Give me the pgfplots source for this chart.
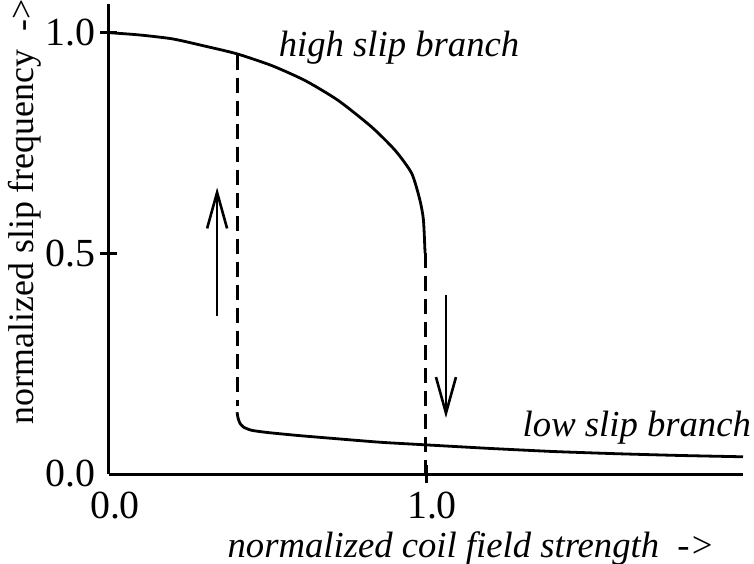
\documentclass[border=0pt]{standalone}
\usepackage{fontspec}
\setmainfont{Liberation Serif}
\usepackage{pgfplots}
\pgfplotsset{compat=1.18}
\usetikzlibrary{arrows.meta}

\begin{document}
\begin{tikzpicture}
\begin{axis}[
  at={(0,0)}, anchor=south west,
  scale only axis, width=317bp, height=235bp,
  xmin=0, xmax=2, ymin=0, ymax=1.065,
  axis lines=left,
  axis line style={-, line width=1.5bp, black},
  clip=false,
  xtick={1}, ytick={0.5,1},
  extra x ticks={0}, extra y ticks={0},
  extra tick style={major tick style={draw=none}},
  tick align=center, major tick length=8.5bp,
  major tick style={line width=1.5bp, black},
  /pgf/number format/.cd, fixed, fixed zerofill, precision=1, assume math mode=true,
  /pgfplots/.cd,
  tick label style={font=\fontsize{20}{24}\selectfont},
  xticklabel style={xshift=3bp, yshift=-1bp},
  yticklabel style={xshift=1bp},
]
% high slip branch
\addplot[line width=1.4bp, black, smooth, tension=0.4] coordinates {
 (0,1.0) (0.094,0.995) (0.2,0.986) (0.3,0.970) (0.404,0.952) (0.515,0.925)
 (0.62,0.891) (0.724,0.846) (0.829,0.786) (0.903,0.733) (0.955,0.681)
 (0.981,0.620) (0.992,0.575) (0.997,0.5)
};
% low slip branch
\addplot[line width=1.4bp, black, smooth, tension=0.35] coordinates {
 (0.404,0.140) (0.407,0.127) (0.413,0.115) (0.425,0.106) (0.45,0.099)
 (0.5,0.094) (0.6,0.087) (0.7,0.081) (0.855,0.072) (1.0,0.066) (1.2,0.058)
 (1.4,0.051) (1.6,0.046) (1.8,0.042) (2.0,0.039)
};
% dashed jumps
\addplot[line width=1.5bp, black, dash pattern=on 7.5bp off 4bp] coordinates {(0.404,0.950) (0.404,0.155)};
\addplot[line width=1.5bp, black, dash pattern=on 7.5bp off 4bp] coordinates {(0.997,0.5) (0.997,0.0)};
% arrows
\addplot[line width=1.3bp, black, -{Straight Barb[length=18bp,width=10bp,line width=1.3bp]}] coordinates {(0.341,0.358) (0.341,0.649)};
\addplot[line width=1.3bp, black, -{Straight Barb[length=18bp,width=10bp,line width=1.3bp]}] coordinates {(1.063,0.406) (1.063,0.127)};
% labels
\node[font=\fontsize{18.4}{22}\selectfont\itshape] at (axis cs:0.915,0.966) {high slip branch};
\node[font=\fontsize{18.4}{22}\selectfont\itshape] at (axis cs:1.665,0.104) {low slip branch};
\node[font=\fontsize{18.4}{22}\selectfont\itshape] at (axis cs:1.142,-0.168) {normalized coil field strength\ \ -{}>};
\node[font=\fontsize{18}{22}\selectfont, rotate=90] at (axis cs:-0.265,0.594) {normalized slip frequency\ \ -{}>};
\end{axis}
\pgfresetboundingbox
\path (-54.5bp,-45bp) rectangle (322.5bp,237bp);
\end{tikzpicture}
\end{document}
